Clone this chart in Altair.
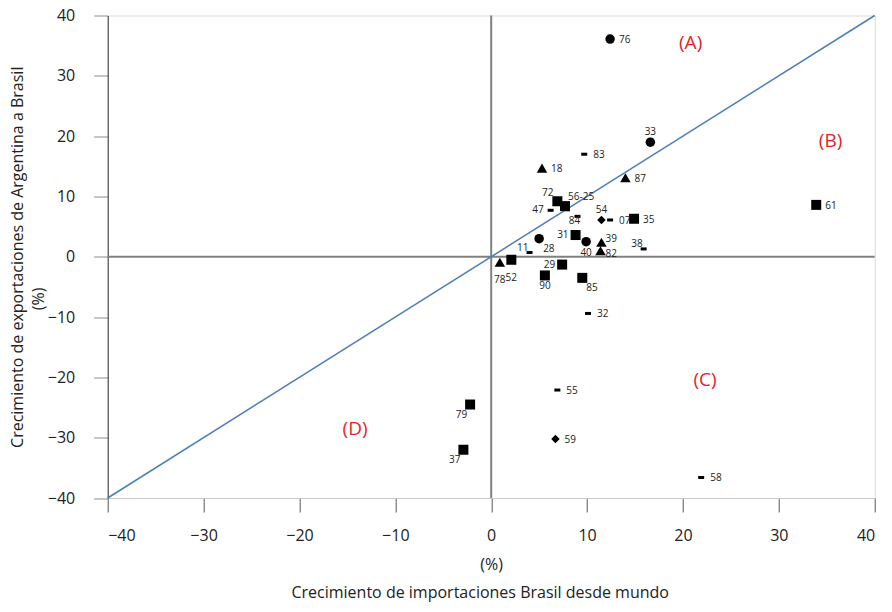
import altair as alt
import pandas as pd

# ---- data ----
labels = ["76", "33", "83", "18", "87", "72", "56-25", "", "47", "84", "54", "07", "35",
          "31", "28", "40", "39", "82", "38", "11", "78", "52", "29", "90", "85",
          "32", "61", "55", "59", "79", "37", "58"]
x_vals = [12.4, 16.6, 9.7, 5.3, 14.0, 6.9, 7.7, 7.9, 6.2, 9.0, 11.5, 12.4, 14.9,
          8.8, 5.0, 9.9, 11.5, 11.4, 15.9, 4.0, 0.9, 2.1, 7.4, 5.6, 9.5,
          10.1, 33.9, 6.9, 6.7, -2.2, -2.9, 21.9]
y_vals = [36.1, 19.0, 17.0, 14.7, 13.1, 9.2, 8.4, 7.8, 7.7, 6.7, 6.1, 6.1, 6.3,
          3.6, 3.0, 2.5, 2.4, 1.0, 1.3, 0.7, -0.9, -0.5, -1.3, -3.1, -3.5,
          -9.4, 8.6, -22.1, -30.2, -24.5, -32.0, -36.6]
markers = ["circle", "circle", "dash", "triangle", "triangle", "square", "square", "dash",
           "dash", "dash", "diamond", "dash", "square",
           "square", "circle", "circle", "triangle", "triangle", "dash", "dash",
           "triangle", "square", "square", "square", "square",
           "dash", "square", "dash", "diamond", "square", "square", "dash"]
placements = ["r", "t", "r", "r", "r", "tl", "tr", "r", "l", "bs", "t", "r", "r",
              "l", "br", "b", "rt", "rb", "lt", "lt", "bb", "bb", "l", "b", "br",
              "r", "r", "r", "r", "bl", "bl", "r"]

region_text = ["(A)", "(B)", "(C)", "(D)"]
region_x = [20.8, 35.4, 22.3, -14.2]
region_y = [35.4, 19.2, -20.4, -28.5]

diag_x = [-40, 40]
diag_y = [-40, 40]

tick_values = [-40, -30, -20, -10, 0, 10, 20, 30, 40]

FONT = "Open Sans"
TEXT = "#222222"
NBSP = "\u00a0"
ZWSP = "\u200b"

df = pd.DataFrame({"x": x_vals, "y": y_vals, "label": labels,
                   "marker": markers, "pos": placements})
regions = pd.DataFrame({"x": region_x, "y": region_y, "t": region_text})
diag = pd.DataFrame({"x": diag_x, "y": diag_y})

xs = alt.Scale(domain=[-40, 40], nice=False, zero=False)
ys = alt.Scale(domain=[-40, 40], nice=False, zero=False)

x_axis = alt.Axis(values=tick_values, title="(%)", grid=False,
                  domainColor="#c9c9c9", tickColor="#595959", tickSize=14,
                  labelPadding=15, labelFontSize=16, labelFont=FONT, labelColor=TEXT,
                  titleFontSize=16, titleFont=FONT, titleColor=TEXT,
                  titleFontWeight="normal", titlePadding=13)
y_axis = alt.Axis(values=tick_values,
                  title=["Crecimiento de exportaciones de Argentina a Brasil",
                         "(%)" + NBSP * 20 + ZWSP],
                  grid=False, domainColor="#333333", tickColor="#8c8c8c", tickSize=14,
                  labelPadding=19, labelFontSize=16, labelFont=FONT, labelColor=TEXT,
                  titleFontSize=16, titleFont=FONT, titleColor=TEXT,
                  titleFontWeight="normal", titlePadding=1, titleLineHeight=21)

base = alt.Chart(df)

zero_v = alt.Chart(pd.DataFrame({"v": [0]})).mark_rule(color="#808080", strokeWidth=2).encode(
    x=alt.X("v:Q", scale=xs, axis=x_axis))
zero_h = alt.Chart(pd.DataFrame({"v": [0]})).mark_rule(color="#808080", strokeWidth=2).encode(
    y=alt.Y("v:Q", scale=ys, axis=y_axis))

diag_line = alt.Chart(diag).mark_line(color="#4a7ebb", strokeWidth=1.5).encode(
    x=alt.X("x:Q", scale=xs, axis=x_axis),
    y=alt.Y("y:Q", scale=ys, axis=y_axis))

shape_map = {
    "circle": ("circle", 90),
    "triangle": ("triangle-up", 110),
    "square": ("square", 100),
    "diamond": ("diamond", 72),
    "dash": ("M-1,-0.5L1,-0.5L1,0.5L-1,0.5Z", 36),
}

layers = [zero_v, zero_h, diag_line]
for name, (shape, size) in shape_map.items():
    layers.append(
        base.transform_filter(alt.datum.marker == name)
        .mark_point(shape=shape, size=size, filled=True, color="black", opacity=1, strokeWidth=0)
        .encode(x=alt.X("x:Q", scale=xs, axis=x_axis), y=alt.Y("y:Q", scale=ys, axis=y_axis))
    )

pos_style = {
    "r": ("left", 9, 1),
    "l": ("right", -7, 0),
    "t": ("center", 0, -10),
    "b": ("center", 0, 11),
    "bb": ("center", 0, 18),
    "bs": ("center", -3, 5),
    "tl": ("right", -4, -8),
    "tr": ("left", 3, -9),
    "lt": ("right", -1, -5),
    "rt": ("left", 4, -3),
    "rb": ("left", 5, 3),
    "br": ("left", 4, 10),
    "bl": ("right", -3, 10),
}
for code, (align, dx, dy) in pos_style.items():
    layers.append(
        base.transform_filter(alt.datum.pos == code)
        .mark_text(align=align, baseline="middle", dx=dx, dy=dy, fontSize=10,
                   font=FONT, color=TEXT)
        .encode(x=alt.X("x:Q", scale=xs, axis=x_axis), y=alt.Y("y:Q", scale=ys, axis=y_axis),
                text="label:N")
    )

layers.append(
    alt.Chart(regions).mark_text(fontSize=19, font=FONT, color="#e8232a", baseline="middle")
    .encode(x=alt.X("x:Q", scale=xs, axis=x_axis), y=alt.Y("y:Q", scale=ys, axis=y_axis), text="t:N")
)

chart = alt.layer(*layers).properties(
    width=767, height=482.5,
    autosize=alt.AutoSizeParams(type="none"),
    padding={"left": 99.7, "top": 7.5, "right": 9.3, "bottom": 106},
    title=alt.TitleParams(text="Crecimiento de importaciones Brasil desde mundo", orient="bottom",
                          anchor="middle", dx=-11, offset=13, fontSize=16, font=FONT,
                          color=TEXT, fontWeight="normal"),
).configure_view(stroke="#d9d9d9", strokeWidth=1)

chart.save("out.html", embed_options={"renderer": "svg", "actions": False})
